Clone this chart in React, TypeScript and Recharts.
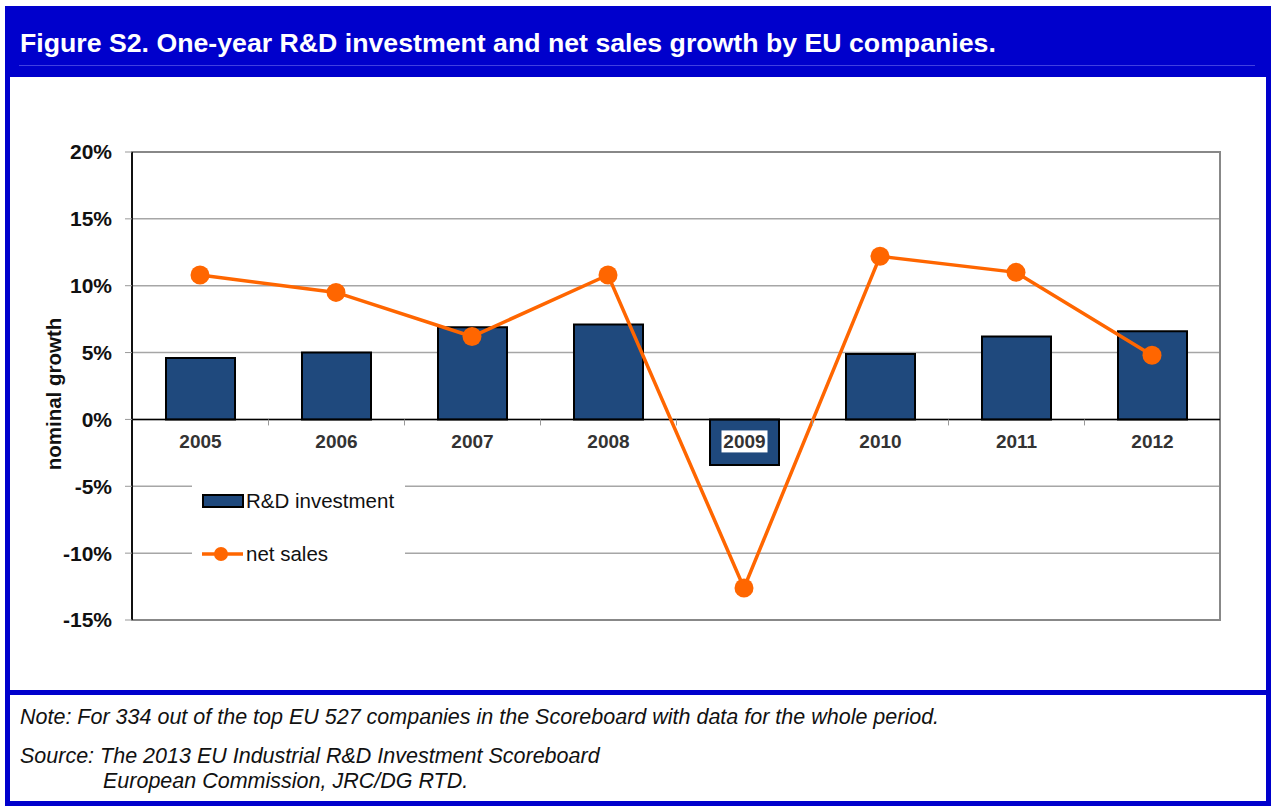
import React from "react";
import {
  ComposedChart,
  Bar,
  Line,
  XAxis,
  YAxis,
  CartesianGrid,
  ReferenceLine,
  ReferenceArea,
  LabelList,
} from "recharts";

const years = ["2005", "2006", "2007", "2008", "2009", "2010", "2011", "2012"];
const rdInvestment = [4.6, 5.0, 6.9, 7.1, -3.4, 4.9, 6.2, 6.6];
const netSales = [10.8, 9.5, 6.2, 10.8, -12.6, 12.2, 11.0, 4.8];
const yTicks = [-15, -10, -5, 0, 5, 10, 15, 20];

const FONT = '"Liberation Sans", Arial, Helvetica, sans-serif';
const FRAME_BLUE = "#0000CC";
const BAR_BLUE = "#1F497D";
const ORANGE = "#FF6600";
const CAT_W = 136;

const data = years.map((year, i) => ({
  year,
  rd: rdInvestment[i],
  sales: netSales[i],
}));

// year labels sit on the zero line, like Excel's "axis crosses at 0"
function YearLabel(props: any) {
  const vb = props.viewBox || props;
  const { x, y, width, height } = vb;
  const i = years.indexOf(String(props.value));
  const v = rdInvestment[i];
  const zeroY = v >= 0 ? Math.max(y, y + height) : Math.min(y, y + height);
  const cx = x + width / 2;
  return (
    <g>
      {i < years.length - 1 && (
        <line x1={cx + CAT_W / 2} x2={cx + CAT_W / 2} y1={zeroY} y2={zeroY + 6} stroke="#999" />
      )}
      {v < 0 && <rect x={cx - 23} y={zeroY + 11} width={46} height={22} fill="#fff" />}
      <text
        x={cx}
        y={zeroY + 22}
        dy="0.36em"
        textAnchor="middle"
        fontFamily={FONT}
        fontSize={19}
        fontWeight="bold"
        fill="#333"
      >
        {props.value}
      </text>
    </g>
  );
}

function ChartLegend() {
  return (
    <div
      style={{
        position: "absolute",
        left: 192,
        top: 470,
        width: 213,
        height: 102,
        background: "#fff",
        fontFamily: FONT,
        fontSize: 20.5,
        color: "#111",
      }}
    >
      <svg width={213} height={102} style={{ position: "absolute", left: 0, top: 0 }}>
        <rect x={11} y={25} width={40} height={12} fill={BAR_BLUE} stroke="#000" strokeWidth={2} />
        <line x1={10} x2={51} y1={84} y2={84} stroke={ORANGE} strokeWidth={3.5} />
        <circle cx={29} cy={84} r={7} fill={ORANGE} />
      </svg>
      <div style={{ position: "absolute", left: 54, top: 19, whiteSpace: "nowrap" }}>R&amp;D investment</div>
      <div style={{ position: "absolute", left: 54, top: 72, whiteSpace: "nowrap" }}>net sales</div>
    </div>
  );
}

const noteStyle: React.CSSProperties = {
  position: "absolute",
  fontSize: 21.5,
  lineHeight: "20px",
  fontStyle: "italic",
  color: "#111",
  whiteSpace: "nowrap",
};

export default function App() {
  return (
    <div style={{ position: "relative", width: 1271, height: 806, background: "#fff", fontFamily: FONT }}>
      <style>{`body{margin:0}`}</style>

      {/* frame, title bar, separator */}
      <div
        style={{
          position: "absolute",
          left: 5,
          top: 6,
          width: 1266,
          height: 800,
          boxSizing: "border-box",
          border: `5px solid ${FRAME_BLUE}`,
        }}
      />
      <div style={{ position: "absolute", left: 5, top: 6, width: 1266, height: 71, background: FRAME_BLUE }} />
      <div style={{ position: "absolute", left: 19, top: 65, width: 1236, height: 1, background: "#4040E0" }} />
      <div
        style={{
          position: "absolute",
          left: 20,
          top: 28,
          color: "#fff",
          fontSize: 26.7,
          fontWeight: "bold",
          whiteSpace: "nowrap",
        }}
      >
        Figure S2. One-year R&amp;D investment and net sales growth by EU companies.
      </div>
      <div style={{ position: "absolute", left: 5, top: 690, width: 1266, height: 5, background: FRAME_BLUE }} />

      {/* chart */}
      <div style={{ position: "absolute", left: 10, top: 77 }}>
        <ComposedChart
          width={1256}
          height={613}
          data={data}
          margin={{ top: 75, right: 46, bottom: 70, left: 52 }}
        >
          <CartesianGrid vertical={false} stroke="#A6A6A6" strokeWidth={1.5} />
          <XAxis dataKey="year" hide />
          <YAxis
            domain={[-15, 20]}
            ticks={yTicks}
            allowDataOverflow
            width={70}
            tickFormatter={(v: number) => `${v}%`}
            tick={{ fontSize: 21, fontWeight: "bold", fill: "#111", fontFamily: FONT }}
            tickSize={7}
            tickMargin={13}
            axisLine={{ stroke: "#111", strokeWidth: 2 }}
            tickLine={{ stroke: "#999" }}
          />
          <ReferenceArea y1={-15} y2={20} fill="none" stroke="#888" strokeWidth={2} strokeOpacity={1} />
          <ReferenceLine y={0} stroke="#000" strokeWidth={1.5} />
          <Bar
            dataKey="rd"
            fill={BAR_BLUE}
            stroke="#000"
            strokeWidth={2}
            barSize={69}
            isAnimationActive={false}
          >
            <LabelList dataKey="year" content={YearLabel} />
          </Bar>
          <Line
            type="linear"
            dataKey="sales"
            stroke={ORANGE}
            strokeWidth={3.5}
            dot={{ r: 9.5, fill: ORANGE, stroke: ORANGE, strokeWidth: 0 }}
            activeDot={false}
            isAnimationActive={false}
          />
        </ComposedChart>
      </div>

      <ChartLegend />

      <div
        style={{
          position: "absolute",
          left: 54,
          top: 394,
          transform: "translate(-50%, -50%) rotate(-90deg)",
          fontSize: 20.5,
          fontWeight: "bold",
          color: "#111",
          whiteSpace: "nowrap",
        }}
      >
        nominal growth
      </div>

      {/* notes */}
      <div style={{ ...noteStyle, left: 20, top: 706.5 }}>
        Note: For 334 out of the top EU 527 companies in the Scoreboard with data for the whole period.
      </div>
      <div style={{ ...noteStyle, left: 20, top: 745.5 }}>
        Source: The 2013 EU Industrial R&amp;D Investment Scoreboard
      </div>
      <div style={{ ...noteStyle, left: 103, top: 770.5 }}>
        European Commission, JRC/DG RTD.
      </div>
    </div>
  );
}
